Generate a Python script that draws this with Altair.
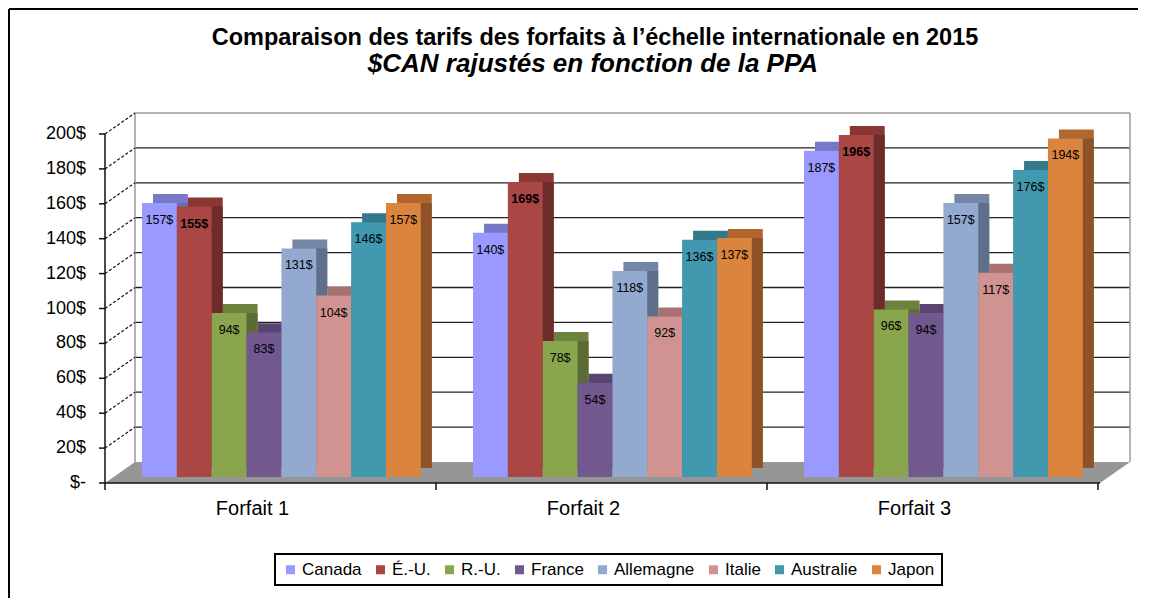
import altair as alt
import pandas as pd

# ---------------- data ----------------
categories = ["Forfait 1", "Forfait 2", "Forfait 3"]
countries = ["Canada", "É.-U.", "R.-U.", "France", "Allemagne", "Italie", "Australie", "Japon"]

canada = [157, 140, 187]
etats_unis = [155, 169, 196]
royaume_uni = [94, 78, 96]
france = [83, 54, 94]
allemagne = [131, 118, 157]
italie = [104, 92, 117]
australie = [146, 136, 176]
japon = [157, 137, 194]
series = [canada, etats_unis, royaume_uni, france, allemagne, italie, australie, japon]

y_ticks = [0, 20, 40, 60, 80, 100, 120, 140, 160, 180, 200]
y_tick_labels = ["$-", "20$", "40$", "60$", "80$", "100$", "120$", "140$", "160$", "180$", "200$"]

title_line1 = "Comparaison des tarifs des forfaits à l’échelle internationale en 2015"
title_line2 = "$CAN rajustés en fonction de la PPA"

# ---------------- styles ----------------
front_colors = ["#9999FF", "#AA4643", "#89A54E", "#71588F", "#93A9CF", "#D19392", "#4198AF", "#DB843D"]
top_colors = ["#7878C8", "#8A3633", "#6C823D", "#5A4572", "#7486A6", "#A87272", "#32798C", "#B0662C"]
side_colors = ["#6A6AB2", "#6D2B29", "#5A6C33", "#4C3A60", "#5F6F89", "#8A5E5E", "#2A6574", "#8E5229"]

FONT = "Liberation Sans"
W, H = 993, 349
N_CAT = len(categories)
STEP = W / N_CAT                 # px per category
GROUP_START = 37 / STEP          # bar group start inside a category (units)
BAR_W = 34.85 / STEP             # bar width (units)
DX, DY = 11, 9                   # bar depth (px)
FRONT = 6                        # front edge offset (px, downward)
BACK = -15                       # back wall offset (px, upward)
WALL_DX = 30 / STEP              # depth of walls (units)
PY = 200 / H                     # value units per px
FLOOR_RIGHT = 995 / STEP

# ---------------- tables ----------------
rows = []
for g, cat in enumerate(categories):
    for i, c in enumerate(countries):
        v = series[i][g]
        x0 = g + GROUP_START + i * BAR_W
        rows.append({"cat": cat, "country": c, "value": v, "zero": 0,
                     "x0": x0, "x1": x0 + BAR_W, "xm": x0 + BAR_W / 2,
                     "label": f"{v}$", "topc": top_colors[i], "sidec": side_colors[i]})
bars = pd.DataFrame(rows)

grid = pd.DataFrame({"v": y_ticks, "label": y_tick_labels,
                     "xa": [0.0] * len(y_ticks), "xb": [WALL_DX] * len(y_ticks),
                     "xe": [FLOOR_RIGHT + WALL_DX] * len(y_ticks)})
wall = pd.DataFrame({"x": [WALL_DX, FLOOR_RIGHT + WALL_DX], "lo": [0, 0], "hi": [200, 200]})
front_axis = pd.DataFrame({"x": [0.0], "lo": [0], "hi": [200], "xr": [FLOOR_RIGHT]})
cats = pd.DataFrame({"cat": categories, "xc": [g + 0.5 for g in range(N_CAT)], "zero": [0] * N_CAT})
xticks = pd.DataFrame({"xt": list(range(N_CAT + 1)), "zero": [0] * (N_CAT + 1)})

yf = -FRONT * PY
yb = -BACK * PY
floor = pd.DataFrame({
    "x": [0, WALL_DX, FLOOR_RIGHT, FLOOR_RIGHT + WALL_DX],
    "y": [yf, yb, yb, yb],
    "y2": [yf, yf, yf, yb],
})

xs = alt.Scale(domain=[0, N_CAT], nice=False, zero=False)
ys = alt.Scale(domain=[0, 200], nice=False, zero=False)


def X(f):
    return alt.X(f, type="quantitative", scale=xs, axis=None)


def Y(f):
    return alt.Y(f, type="quantitative", scale=ys, axis=None)


# floor
floor_layer = alt.Chart(floor).mark_area(color="#969696", opacity=1).encode(
    x=X("x"), y=Y("y"), y2="y2")

# back wall gridlines
back_grid = alt.Chart(grid).transform_filter("datum.v > 0 && datum.v < 200").mark_rule(
    yOffset=BACK, color="#222222", strokeWidth=1.3).encode(
    y=Y("v"), x=X("xb"), x2="xe")
wall_top = alt.Chart(grid).transform_filter("datum.v == 200").mark_rule(
    yOffset=BACK, color="#9a9a9a", strokeWidth=1.5).encode(
    y=Y("v"), x=X("xb"), x2="xe")
wall_sides = alt.Chart(wall).mark_rule(yOffset=BACK, y2Offset=BACK, color="#9a9a9a", strokeWidth=1.5).encode(
    x=X("x"), y=Y("lo"), y2="hi")

# side wall diagonals
diag = alt.Chart(grid).transform_filter("datum.v > 0").mark_rule(
    yOffset=FRONT, y2Offset=BACK, color="#111", strokeWidth=1.2, strokeDash=[3, 2]).encode(
    x=X("xa"), x2="xb", y=Y("v"), y2="v")

# front axis
y_axis_line = alt.Chart(front_axis).mark_rule(
    yOffset=FRONT, y2Offset=FRONT, color="#111", strokeWidth=1.5).encode(
    x=X("x"), y=Y("lo"), y2="hi")
y_ticks_l = alt.Chart(grid).mark_rule(yOffset=FRONT, x2Offset=-6, color="#111", strokeWidth=1.5).encode(
    x=X("xa"), x2="xa", y=Y("v"))
y_labels = alt.Chart(grid).mark_text(align="right", baseline="middle", dx=-19, dy=FRONT,
                                     font=FONT, fontSize=18, color="black").encode(
    x=X("xa"), y=Y("v"), text="label:N")

x_axis_line = alt.Chart(front_axis).mark_rule(
    yOffset=FRONT, color="#111", strokeWidth=1.5).encode(
    y=Y("lo"), x=X("x"), x2="xr")
x_ticks_l = alt.Chart(xticks).mark_rule(yOffset=FRONT, y2Offset=FRONT + 7, color="#111", strokeWidth=1.5).encode(
    x=X("xt"), y=Y("zero"), y2="zero")
x_labels = alt.Chart(cats).mark_text(baseline="middle", dy=32, dx=-18, font=FONT, fontSize=20,
                                     color="black").encode(
    x=X("xc"), y=Y("zero"), text="cat:N")

# bars (pseudo 3D)
bar_base = alt.Chart(bars)
bar_top = bar_base.mark_rect(xOffset=DX, x2Offset=DX, yOffset=-DY, y2Offset=-DY).encode(
    x=X("x0"), x2="x1", y=Y("value"), y2="zero", fill=alt.Fill("topc:N", scale=None))
bar_side = bar_base.mark_rect(xOffset=DX, x2Offset=DX, y2Offset=-DY).encode(
    x=X("x0"), x2="x1", y=Y("value"), y2="zero", fill=alt.Fill("sidec:N", scale=None))
bar_front = bar_base.mark_rect().encode(
    x=X("x0"), x2="x1", y=Y("value"), y2="zero",
    color=alt.Color("country:N", sort=countries,
                    scale=alt.Scale(domain=countries, range=front_colors),
                    legend=alt.Legend(orient="none", legendX=170, legendY=426, direction="horizontal",
                                      title=None, symbolType="square", symbolSize=81,
                                      symbolStrokeWidth=0, labelFont=FONT, labelFontSize=17,
                                      labelColor="black", columnPadding=10, padding=7,
                                      labelOffset=3, strokeColor="black")))

lab_normal = bar_base.transform_filter("datum.country != 'É.-U.'").mark_text(
    baseline="middle", dy=17, font=FONT, fontSize=12.5, color="black").encode(
    x=X("xm"), y=Y("value"), text="label:N")
lab_bold = bar_base.transform_filter("datum.country == 'É.-U.'").mark_text(
    baseline="middle", dy=17, font=FONT, fontSize=12.5, fontWeight="bold", color="black").encode(
    x=X("xm"), y=Y("value"), text="label:N")

# titles
t_df = pd.DataFrame({"t1": [title_line1], "t2": [title_line2]})
title1 = alt.Chart(t_df).mark_text(font=FONT, fontSize=23.5, fontWeight="bold", color="black",
                                   baseline="middle").encode(
    x=alt.value(490), y=alt.value(-90), text="t1:N")
title2 = alt.Chart(t_df).mark_text(font=FONT, fontSize=26, fontWeight="bold", fontStyle="italic",
                                   color="black", baseline="middle").encode(
    x=alt.value(488), y=alt.value(-64), text="t2:N")

# outer frame
frame_df = pd.DataFrame({"k": [0]})
fl = alt.Chart(frame_df).mark_rule(color="black", strokeWidth=2).encode(
    x=alt.value(-96), y=alt.value(-119), y2=alt.value(480))
fr = alt.Chart(frame_df).mark_rule(color="black", strokeWidth=2).encode(
    x=alt.value(1034), y=alt.value(-119), y2=alt.value(480))
ft = alt.Chart(frame_df).mark_rule(color="black", strokeWidth=2).encode(
    x=alt.value(-96), x2=alt.value(1034), y=alt.value(-119))

chart = alt.layer(
    floor_layer, back_grid, wall_top, wall_sides, diag,
    y_axis_line, y_ticks_l, y_labels, x_axis_line, x_ticks_l, x_labels,
    bar_top, bar_side, bar_front, lab_normal, lab_bold,
    title1, title2, fl, fr, ft,
).properties(
    width=W, height=H,
    autosize=alt.AutoSizeParams(type="none"),
    padding={"left": 97, "top": 120, "right": 40, "bottom": 121},
).configure_view(stroke=None).configure_legend(strokeWidth=2)

chart.save("out.html", embed_options={"renderer": "svg", "actions": False})
